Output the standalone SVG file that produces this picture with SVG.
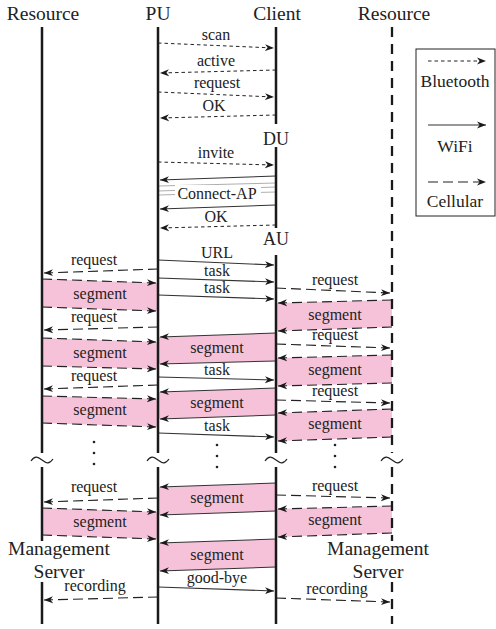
<svg xmlns="http://www.w3.org/2000/svg" width="496" height="629" viewBox="0 0 496 629">
<style>
text{font-family:'Liberation Serif','Times New Roman','DejaVu Serif',serif;fill:#222;text-anchor:middle}
.hd{font-size:19.5px}
.lb{font-size:16px}
.lg{font-size:17.5px}
.ll{stroke:#1a1a1a;stroke-width:2.5;fill:none}
.lld{stroke:#1a1a1a;stroke-width:2.3;fill:none;stroke-dasharray:10 7}
.bt{stroke:#222;stroke-width:1;stroke-dasharray:3.5 3;fill:none}
.wf{stroke:#333;stroke-width:1.1;fill:none}
.wg{stroke:#999;stroke-width:0.8;fill:none}
.cl{stroke:#222;stroke-width:1.1;stroke-dasharray:10 5;fill:none}
.band{fill:#f6c2da;stroke:none}
.ar{marker-end:url(#ah)}
.tl{stroke:#222;stroke-width:1.2;fill:none}
.dot{fill:#222}
</style>
<defs>
<marker id="ah" markerWidth="10" markerHeight="8" refX="9" refY="4" orient="auto" markerUnits="userSpaceOnUse">
<path d="M0,0.6 L9,4 L0,7.4 L2.6,4 z" fill="#1a1a1a"/>
</marker>
</defs>
<rect width="496" height="629" fill="#fff"/>

<g id="connectors" font-family="Liberation Serif, serif">
<polygon class="band" points="42,279 158,283 158,311 42,307"/>
<polygon class="band" points="42,338 158,342 158,369 42,366"/>
<polygon class="band" points="42,396 158,399 158,427 42,423"/>
<polygon class="band" points="42,508 158,512 158,539 42,535"/>
<polygon class="band" points="276,333 158,337 158,364 276,361"/>
<polygon class="band" points="276,388 158,392 158,419 276,415"/>
<polygon class="band" points="276,483 158,487 158,515 276,511"/>
<polygon class="band" points="276,539 158,543 158,571 276,567"/>
<polygon class="band" points="392,300 276,303 276,331 392,327"/>
<polygon class="band" points="392,355 276,358 276,386 392,383"/>
<polygon class="band" points="392,409 276,413 276,441 392,437"/>
<polygon class="band" points="392,506 276,509 276,537 392,533"/>

<line class="bt ar" x1="158" y1="43" x2="274" y2="48"/>
<line class="bt ar" x1="276" y1="70" x2="160" y2="73"/>
<line class="bt ar" x1="158" y1="92" x2="274" y2="97"/>
<line class="bt ar" x1="276" y1="115" x2="160" y2="118"/>
<line class="bt ar" x1="158" y1="162" x2="274" y2="165"/>
<line class="bt ar" x1="276" y1="225" x2="160" y2="228"/>
<text class="lb" x="216" y="40">scan</text>
<text class="lb" x="216" y="66">active</text>
<text class="lb" x="217" y="88">request</text>
<text class="lb" x="214" y="111">OK</text>
<text class="lb" x="216" y="158">invite</text>
<text class="lb" x="216" y="222">OK</text>

<line class="wf ar" x1="276" y1="176" x2="160" y2="180"/>
<line class="wg" x1="276" y1="183" x2="158" y2="186"/>
<line class="wg" x1="276" y1="187" x2="158" y2="191"/>
<line class="wg" x1="276" y1="192" x2="158" y2="195"/>
<rect x="175" y="185" width="86" height="17" fill="#fff"/>
<text class="lb" x="217" y="199">Connect-AP</text>
<line class="wf ar" x1="276" y1="205" x2="160" y2="209"/>

<line class="wf ar" x1="158" y1="260" x2="274" y2="265"/>
<line class="wf ar" x1="158" y1="278" x2="274" y2="282"/>
<line class="wf ar" x1="158" y1="295" x2="274" y2="299"/>
<line class="wf ar" x1="276" y1="333" x2="160" y2="337"/>
<line class="wf ar" x1="276" y1="361" x2="160" y2="364"/>
<line class="wf ar" x1="158" y1="377" x2="274" y2="380"/>
<line class="wf ar" x1="276" y1="388" x2="160" y2="392"/>
<line class="wf ar" x1="276" y1="415" x2="160" y2="419"/>
<line class="wf ar" x1="158" y1="433" x2="274" y2="437"/>
<line class="wf ar" x1="276" y1="483" x2="160" y2="487"/>
<line class="wf ar" x1="276" y1="511" x2="160" y2="515"/>
<line class="wf ar" x1="276" y1="539" x2="160" y2="543"/>
<line class="wf ar" x1="276" y1="567" x2="160" y2="571"/>
<line class="wf ar" x1="158" y1="587" x2="274" y2="591"/>
<text class="lb" x="217" y="258">URL</text>
<text class="lb" x="217" y="276">task</text>
<text class="lb" x="217" y="293">task</text>
<text class="lb" x="217" y="353">segment</text>
<text class="lb" x="217" y="375">task</text>
<text class="lb" x="217" y="408">segment</text>
<text class="lb" x="217" y="431">task</text>
<text class="lb" x="217" y="503">segment</text>
<text class="lb" x="217" y="560">segment</text>
<text class="lb" x="217" y="583">good-bye</text>

<line class="cl ar" x1="158" y1="269" x2="44" y2="273"/>
<line class="cl ar" x1="42" y1="279" x2="156" y2="283"/>
<line class="cl ar" x1="42" y1="307" x2="156" y2="311"/>
<line class="cl ar" x1="158" y1="327" x2="44" y2="330"/>
<line class="cl ar" x1="42" y1="338" x2="156" y2="342"/>
<line class="cl ar" x1="42" y1="366" x2="156" y2="369"/>
<line class="cl ar" x1="158" y1="385" x2="44" y2="389"/>
<line class="cl ar" x1="42" y1="396" x2="156" y2="399"/>
<line class="cl ar" x1="42" y1="423" x2="156" y2="427"/>
<line class="cl ar" x1="158" y1="498" x2="44" y2="502"/>
<line class="cl ar" x1="42" y1="508" x2="156" y2="512"/>
<line class="cl ar" x1="42" y1="535" x2="156" y2="539"/>
<line class="cl ar" x1="158" y1="597" x2="44" y2="600"/>
<text class="lb" x="94" y="265">request</text>
<text class="lb" x="100" y="299">segment</text>
<text class="lb" x="94" y="322">request</text>
<text class="lb" x="100" y="358">segment</text>
<text class="lb" x="94" y="381">request</text>
<text class="lb" x="100" y="415">segment</text>
<text class="lb" x="94" y="492">request</text>
<text class="lb" x="100" y="527">segment</text>
<text class="lb" x="95" y="591">recording</text>

<line class="cl ar" x1="276" y1="288" x2="390" y2="293"/>
<line class="cl ar" x1="392" y1="300" x2="278" y2="303"/>
<line class="cl ar" x1="392" y1="327" x2="278" y2="331"/>
<line class="cl ar" x1="276" y1="344" x2="390" y2="348"/>
<line class="cl ar" x1="392" y1="355" x2="278" y2="358"/>
<line class="cl ar" x1="392" y1="383" x2="278" y2="386"/>
<line class="cl ar" x1="276" y1="400" x2="390" y2="403"/>
<line class="cl ar" x1="392" y1="409" x2="278" y2="413"/>
<line class="cl ar" x1="392" y1="437" x2="278" y2="441"/>
<line class="cl ar" x1="276" y1="495" x2="390" y2="498"/>
<line class="cl ar" x1="392" y1="506" x2="278" y2="509"/>
<line class="cl ar" x1="392" y1="533" x2="278" y2="537"/>
<line class="cl ar" x1="276" y1="598" x2="390" y2="602"/>
<text class="lb" x="335" y="285">request</text>
<text class="lb" x="335" y="320">segment</text>
<text class="lb" x="335" y="340">request</text>
<text class="lb" x="335" y="375">segment</text>
<text class="lb" x="335" y="396">request</text>
<text class="lb" x="335" y="429">segment</text>
<text class="lb" x="335" y="491">request</text>
<text class="lb" x="335" y="525">segment</text>
<text class="lb" x="337" y="594">recording</text>

<circle class="dot" cx="94" cy="442" r="1.3"/>
<circle class="dot" cx="94" cy="453" r="1.3"/>
<circle class="dot" cx="94" cy="464" r="1.3"/>
<circle class="dot" cx="217" cy="445" r="1.3"/>
<circle class="dot" cx="217" cy="456" r="1.3"/>
<circle class="dot" cx="217" cy="467" r="1.3"/>
<circle class="dot" cx="335" cy="445" r="1.3"/>
<circle class="dot" cx="335" cy="456" r="1.3"/>
<circle class="dot" cx="335" cy="467" r="1.3"/>
</g>

<g id="resource-left">
<text class="hd" x="43" y="20">Resource</text>
<path class="ll" d="M42,27 V453 M42,467 V541 M42,582 V624"/>
<path class="tl" d="M31,461 C35,455 38,457 42,460 S49,465 53,459"/>
<text class="hd" x="59" y="555">Management</text>
<text class="hd" x="59" y="578">Server</text>
</g>

<g id="pu">
<text class="hd" x="158" y="20">PU</text>
<path class="ll" d="M158,27 V453 M158,467 V624"/>
<path class="tl" d="M147,461 C151,455 154,457 158,460 S165,465 169,459"/>
</g>

<g id="client">
<text class="hd" x="277" y="20">Client</text>
<path class="ll" d="M276,27 V124 M276,147 V228 M276,255 V453 M276,467 V624"/>
<text x="276" y="145" style="font-size:18px">DU</text>
<text x="276" y="245" style="font-size:18px">AU</text>
<path class="tl" d="M265,461 C269,455 272,457 276,460 S283,465 287,459"/>
</g>

<g id="resource-right">
<text class="hd" x="394" y="20">Resource</text>
<path class="lld" d="M392,27 V453 M392,467 V541 M392,582 V624"/>
<path class="tl" d="M381,461 C385,455 388,457 392,460 S399,465 403,459"/>
<text class="hd" x="378" y="555">Management</text>
<text class="hd" x="378" y="578">Server</text>
</g>

<g id="legend">
<rect x="416" y="49" width="79" height="167" fill="none" stroke="#222" stroke-width="1"/>
<line class="bt ar" x1="428" y1="61" x2="486" y2="61"/>
<text class="lg" x="455" y="87">Bluetooth</text>
<line class="wf ar" x1="428" y1="125" x2="486" y2="125"/>
<text class="lg" x="455" y="152">WiFi</text>
<line class="cl ar" x1="428" y1="182" x2="486" y2="182"/>
<text class="lg" x="455" y="207">Cellular</text>
</g>
</svg>
